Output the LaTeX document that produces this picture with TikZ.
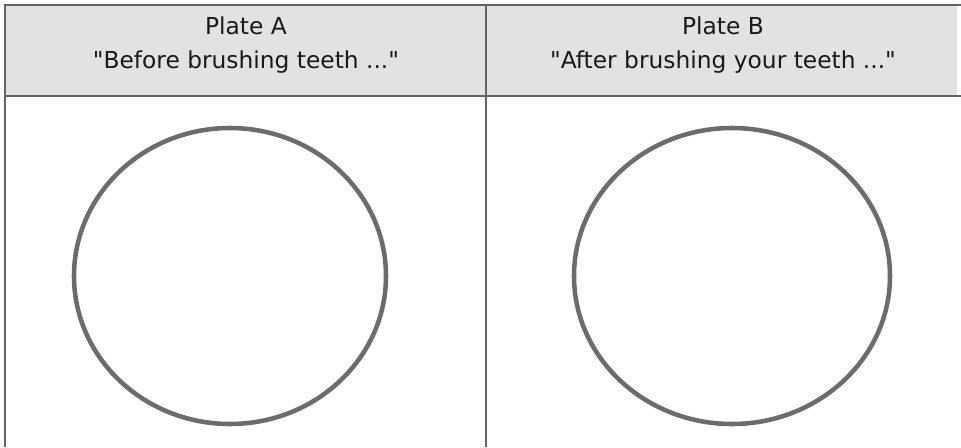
\documentclass[tikz,border=0pt]{standalone}
\usepackage{fontspec}
\setmainfont{DejaVu Sans}
\usepackage{xcolor}
\usetikzlibrary{positioning}
\definecolor{headgray}{RGB}{226,226,226}
\definecolor{rulegray}{RGB}{100,100,100}
\definecolor{plategray}{RGB}{108,108,108}
\newcommand{\qt}{\textquotedbl}

\begin{document}
\begin{tikzpicture}[x=0.75pt,y=-0.75pt,
  rule/.style={draw=rulegray,line width=1.5pt},
  plate/.style={draw=plategray,line width=3.4pt},
  headtext/.style={align=center,text=black!90,font=\fontsize{17.5}{25.5}\selectfont}]
  \useasboundingbox (0,0) rectangle (961,447);
  \fill[headgray] (5,5) rectangle (957,96);
  \draw[rule] (5,447)--(5,5)--(961,5);
  \draw[rule] (5,96)--(961,96);
  \draw[rule] (486,5)--(486,447);
  \node[headtext] (headA) at (246,45) {Plate A\\\qt Before brushing teeth ...\qt};
  \node[headtext] (headB) at (723,45) {Plate B\\\qt After brushing your teeth ...\qt};
  \draw[plate] (230,276) ellipse [x radius=156, y radius=148];
  \draw[plate] (732,276) ellipse [x radius=158, y radius=148];
\end{tikzpicture}
\end{document}
